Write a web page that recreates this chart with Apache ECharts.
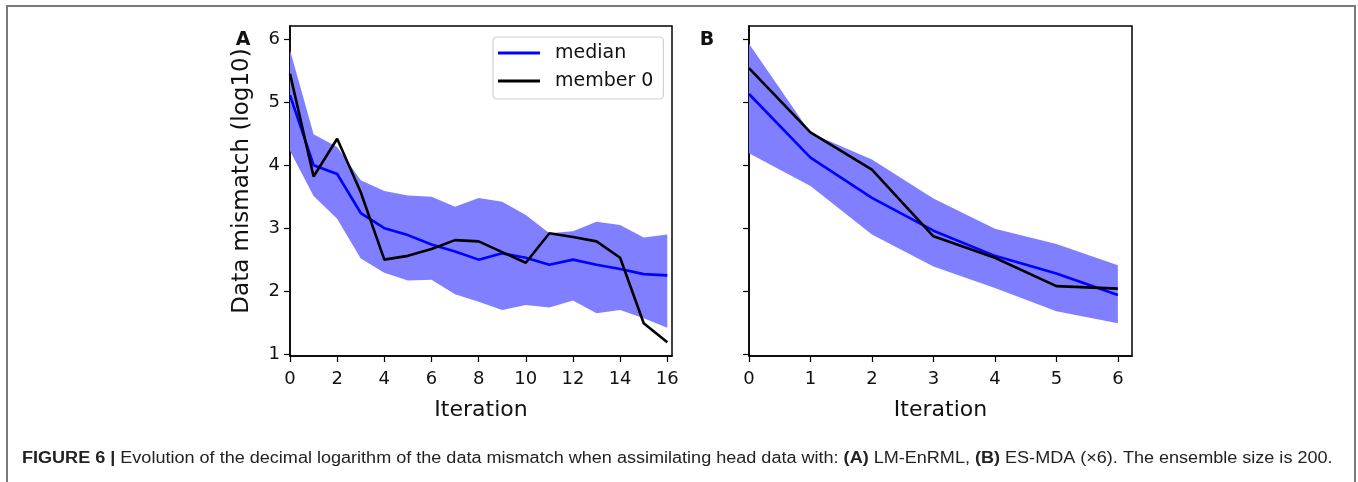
<!DOCTYPE html>
<html lang="en">
<head>
  <meta charset="UTF-8">
  <title>Figure 6 - data mismatch</title>
  <script src="https://cdn.jsdelivr.net/npm/echarts@6/dist/echarts.min.js"></script>
  <style>
    html, body { margin: 0; padding: 0; background: #fff; }
    #chart { width: 1358px; height: 482px; }
  </style>
</head>
<body>
  <div id="chart"></div>

  <script>
    // panel A: LM-EnRML, iterations 0..16
    var iterA = [0, 1, 2, 3, 4, 5, 6, 7, 8, 9, 10, 11, 12, 13, 14, 15, 16];
    var medianA = [5.11, 4.0, 3.86, 3.24, 3.0, 2.89, 2.74, 2.63, 2.5, 2.6, 2.53, 2.42, 2.5, 2.42, 2.35, 2.27, 2.25];
    var memberA = [5.45, 3.82, 4.42, 3.57, 2.5, 2.56, 2.67, 2.81, 2.79, 2.62, 2.45, 2.92, 2.86, 2.79, 2.53, 1.49, 1.19];
    var upperA = [5.83, 4.49, 4.29, 3.76, 3.59, 3.52, 3.5, 3.34, 3.48, 3.42, 3.21, 2.92, 2.95, 3.1, 3.05, 2.85, 2.9];
    var lowerA = [4.23, 3.51, 3.15, 2.52, 2.29, 2.17, 2.18, 1.95, 1.83, 1.7, 1.78, 1.74, 1.85, 1.65, 1.7, 1.57, 1.42];

    // panel B: ES-MDA (x6), iterations 0..6
    var iterB = [0, 1, 2, 3, 4, 5, 6];
    var medianB = [5.13, 4.12, 3.48, 2.96, 2.56, 2.28, 1.94];
    var memberB = [5.54, 4.52, 3.93, 2.87, 2.53, 2.08, 2.04];
    var upperB = [5.93, 4.51, 4.09, 3.47, 2.99, 2.75, 2.41];
    var lowerB = [4.19, 3.67, 2.9, 2.39, 2.05, 1.68, 1.49];

    var xTicksA = [0, 2, 4, 6, 8, 10, 12, 14, 16];
    var xTicksB = [0, 1, 2, 3, 4, 5, 6];
    var yTicks = [1, 2, 3, 4, 5, 6];

    var caption = '{b|FIGURE 6 |} Evolution of the decimal logarithm of the data mismatch when assimilating head data with: ' +
      '{b|(A)} LM-EnRML, {b|(B)} ES-MDA (\u00d76). The ensemble size is 200.';

    function pairs(xs, ys) {
      return xs.map(function (x, i) { return [x, ys[i]]; });
    }

    var tickFont = { fontFamily: 'DejaVu Sans', fontSize: 18, color: '#111' };

    function xAxisFor(idx, max, ticks) {
      return {
        type: 'value', gridIndex: idx, min: 0, max: max,
        name: 'Iteration', nameLocation: 'middle', nameGap: 43,
        nameTextStyle: { fontFamily: 'DejaVu Sans', fontSize: 22, color: '#111' },
        axisLine: { show: true, onZero: false, lineStyle: { color: '#000', width: 1.5 } },
        axisTick: { show: true, length: 6, customValues: ticks, lineStyle: { color: '#000', width: 1.2 } },
        axisLabel: Object.assign({ margin: 14, customValues: ticks }, tickFont),
        splitLine: { show: false }
      };
    }
    function yAxisFor(idx, showLabels) {
      return {
        type: 'value', gridIndex: idx, min: 0.97, max: 6.21,
        name: showLabels ? 'Data mismatch (log10)' : '',
        nameLocation: 'middle', nameGap: 36,
        nameTextStyle: { fontFamily: 'DejaVu Sans', fontSize: 23, color: '#111', padding: [0, 0, 0, 20] },
        axisLine: { show: true, onZero: false, lineStyle: { color: '#000', width: 1.5 } },
        axisTick: { show: true, length: 6, customValues: yTicks, lineStyle: { color: '#000', width: 1.2 } },
        axisLabel: Object.assign({ show: showLabels, margin: 10, customValues: yTicks }, tickFont),
        splitLine: { show: false }
      };
    }

    // spread between lower and upper, drawn as one polygon through the axes' scales
    function bandSeries(idx, xs, lower, upper) {
      return {
        type: 'custom', xAxisIndex: idx, yAxisIndex: idx, silent: true, z: 1,
        data: xs.map(function (x, i) { return [x, lower[i], upper[i]]; }),
        encode: { x: 0, y: [1, 2] },
        renderItem: function (params, api) {
          if (params.dataIndex !== 0) return null;
          var top = xs.map(function (x, i) { return api.coord([x, upper[i]]); });
          var bottom = xs.map(function (x, i) { return api.coord([x, lower[i]]); }).reverse();
          return {
            type: 'polygon',
            shape: { points: top.concat(bottom) },
            style: { fill: '#7f7fff', stroke: null }
          };
        }
      };
    }
    function lineSeries(idx, name, xs, ys, color) {
      return {
        type: 'line', name: name, xAxisIndex: idx, yAxisIndex: idx, z: 3,
        data: pairs(xs, ys), showSymbol: false, symbol: 'none',
        lineStyle: { color: color, width: 2.6 }, itemStyle: { color: color }
      };
    }

    var chart = echarts.init(document.getElementById('chart'));
    var option = {
      animation: false,
      backgroundColor: '#fff',
      grid: [
        { left: 290, top: 26, width: 382, height: 330, show: true, borderColor: '#000', borderWidth: 1.5 },
        { left: 749, top: 26, width: 383, height: 330, show: true, borderColor: '#000', borderWidth: 1.5 }
      ],
      xAxis: [xAxisFor(0, 16.2, xTicksA), xAxisFor(1, 6.23, xTicksB)],
      yAxis: [yAxisFor(0, true), yAxisFor(1, false)],
      legend: {
        data: ['median', 'member 0'],
        orient: 'vertical', left: 493, top: 37,
        icon: 'rect', itemWidth: 42, itemHeight: 3, itemGap: 8,
        padding: [6, 10, 8, 5],
        borderColor: '#d0d0d0', borderWidth: 1.2, borderRadius: 4,
        textStyle: { fontFamily: 'DejaVu Sans', fontSize: 19, color: '#111', lineHeight: 20, padding: [0, 0, 0, 10] }
      },
      series: [
        bandSeries(0, iterA, lowerA, upperA),
        lineSeries(0, 'median', iterA, medianA, '#0000ff'),
        lineSeries(0, 'member 0', iterA, memberA, '#000'),
        bandSeries(1, iterB, lowerB, upperB),
        lineSeries(1, 'median', iterB, medianB, '#0000ff'),
        lineSeries(1, 'member 0', iterB, memberB, '#000')
      ],
      graphic: [
        { type: 'rect', shape: { x: 7, y: 6, width: 1348, height: 500 },
          style: { fill: null, stroke: '#7a7a7a', lineWidth: 2 } },
        { type: 'text', x: 243, y: 40, style: { text: 'A', font: 'bold 19px "DejaVu Sans"', fill: '#111', align: 'center', verticalAlign: 'middle' } },
        { type: 'text', x: 707, y: 40, style: { text: 'B', font: 'bold 19px "DejaVu Sans"', fill: '#111', align: 'center', verticalAlign: 'middle' } },
        { type: 'text', x: 22, y: 459, scaleX: 1.128,
          style: { text: caption, font: '16px "Liberation Sans"', fill: '#222', verticalAlign: 'middle',
            rich: { b: { fontWeight: 'bold', fontSize: 16, fontFamily: 'Liberation Sans', fill: '#222' } } } }
      ]
    };
    chart.setOption(option);
  </script>
</body>
</html>
